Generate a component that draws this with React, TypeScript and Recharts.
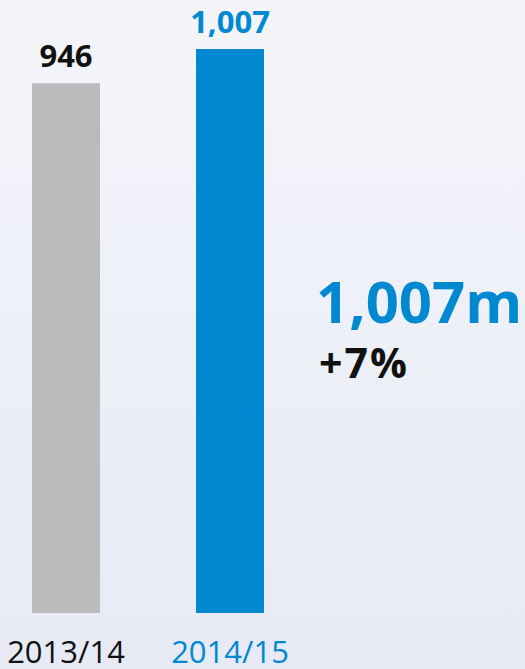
import { BarChart, Bar, XAxis, YAxis, Cell, LabelList } from 'recharts';

const categories = ['2013/14', '2014/15'];
const values = [946, 1007];
const headline = '1,007m';
const change = '+7%';

const BLUE = '#0089d1';
const GREY = '#bbbabc';
const barColors = [GREY, BLUE];
const labelColors = ['#111111', BLUE];
const tickColors = ['#111111', BLUE];

const data = categories.map((name, i) => ({ name, value: values[i] }));

const FONT = '"Open Sans", "DejaVu Sans", sans-serif';

function ValueLabel(props: any) {
  const { x, y, width, value, index } = props;
  return (
    <text
      x={x + width / 2}
      y={y - 16}
      textAnchor="middle"
      fill={labelColors[index]}
      fontFamily={FONT}
      fontWeight={700}
      fontSize={31}
    >
      {value.toLocaleString('en-US')}
    </text>
  );
}

function YearTick(props: any) {
  const { x, y, payload, index } = props;
  return (
    <text
      x={x}
      y={y}
      dy={42}
      textAnchor="middle"
      fill={tickColors[index]}
      fontFamily={FONT}
      fontSize={31}
    >
      {payload.value}
    </text>
  );
}

export default function App() {
  return (
    <div
      style={{
        position: 'absolute',
        top: 0,
        left: 0,
        width: 525,
        height: 669,
        overflow: 'hidden',
        background: 'linear-gradient(to bottom, #f4f5f9 0%, #eef0f8 50%, #e7eaf5 100%)',
      }}
    >
      <div style={{ position: 'absolute', left: -16, top: 0 }}>
        <BarChart
          width={541}
          height={669}
          data={data}
          margin={{ top: 49, right: 213, left: 0, bottom: 0 }}
        >
          <XAxis
            dataKey="name"
            height={56}
            axisLine={false}
            tickLine={false}
            interval={0}
            tick={<YearTick />}
          />
          <YAxis hide domain={[0, 'dataMax']} />
          <Bar dataKey="value" barSize={68} isAnimationActive={false}>
            {data.map((d, i) => (
              <Cell key={d.name} fill={barColors[i]} />
            ))}
            <LabelList dataKey="value" content={<ValueLabel />} />
          </Bar>
        </BarChart>
      </div>
      <svg
        width={525}
        height={669}
        style={{ position: 'absolute', left: 0, top: 0, pointerEvents: 'none' }}
      >
        <text x={316} y={323} fill={BLUE} fontFamily={FONT} fontWeight={700} fontSize={58}>
          {headline}
        </text>
        <text
          x={319}
          y={378}
          fill="#111111"
          fontFamily={FONT}
          fontWeight={700}
          fontSize={41}
          letterSpacing={2}
        >
          {change}
        </text>
      </svg>
    </div>
  );
}
